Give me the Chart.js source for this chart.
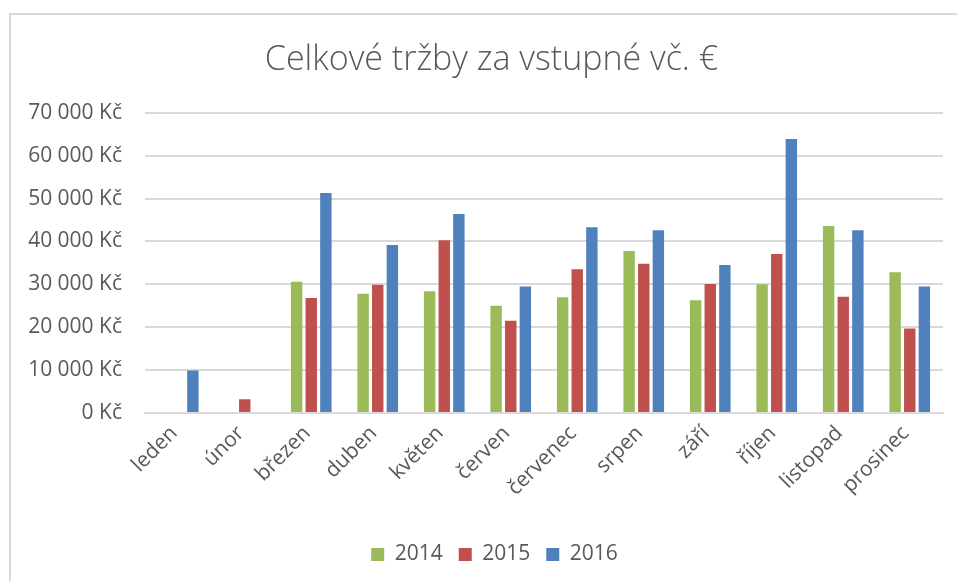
<!DOCTYPE html>
<html lang="cs">
<head>
    <meta charset="UTF-8">
    <title>Celkové tržby za vstupné</title>
    <script src="https://cdn.jsdelivr.net/npm/chart.js"></script>
    <style>
        body {
            margin: 0;
            background-color: #ffffff;
        }
        .wrap {
            position: relative;
            width: 957px;
            height: 581px;
        }
    </style>
</head>
<body>
    <div class="wrap">
        <canvas id="salesChart" width="957" height="581"></canvas>
    </div>
    <script>
        // Data
        const months = ['leden', 'únor', 'březen', 'duben', 'květen', 'červen',
            'červenec', 'srpen', 'září', 'říjen', 'listopad', 'prosinec'];
        const sales2014 = [null, null, 30600, 27800, 28400, 25000, 27000, 37800, 26300, 30000, 43600, 32800];
        const sales2015 = [null, 3200, 26800, 29900, 40300, 21500, 33500, 34800, 30100, 37100, 27100, 19700];
        const sales2016 = [9900, null, 51300, 39200, 46400, 29500, 43300, 42600, 34500, 63900, 42600, 29500];
        const yTicks = [0, 10000, 20000, 30000, 40000, 50000, 60000, 70000];

        const textColor = '#595959';
        const gridColor = '#d9d9d9';
        const fontFamily = "'Open Sans', sans-serif";

        // Format 70000 -> "70 000 Kč"
        function formatKc(value) {
            return String(value).replace(/\B(?=(\d{3})+(?!\d))/g, ' ') + ' Kč';
        }

        // Light frame around the chart, like the Excel chart box
        const frame = {
            id: 'frame',
            afterLayout(chart) {
                // title and legend are centred on the wider Excel frame
                chart.titleBlock.left += 15;
                chart.titleBlock.right += 15;
                chart.legend.left += 18;
                chart.legend.right += 18;
            },
            beforeDraw(chart) {
                const ctx = chart.ctx;
                ctx.save();
                ctx.fillStyle = '#ffffff';
                ctx.fillRect(0, 0, chart.width, chart.height);
                ctx.strokeStyle = gridColor;
                ctx.lineWidth = 2;
                ctx.strokeRect(10, 14, chart.width + 20, chart.height + 20);
                ctx.restore();
            }
        };

        Chart.defaults.font.family = fontFamily;
        Chart.defaults.color = textColor;

        new Chart(document.getElementById('salesChart'), {
            type: 'bar',
            data: {
                labels: months,
                datasets: [
                    { label: '2014', data: sales2014, backgroundColor: '#9bbb59' },
                    { label: '2015', data: sales2015, backgroundColor: '#c0504d' },
                    { label: '2016', data: sales2016, backgroundColor: '#4f81bd' }
                ]
            },
            options: {
                responsive: false,
                animation: false,
                layout: {
                    padding: { left: 10, right: 14, top: 14, bottom: 6 }
                },
                datasets: {
                    bar: {
                        categoryPercentage: 0.66,
                        barPercentage: 0.78
                    }
                },
                plugins: {
                    title: {
                        display: true,
                        text: 'Celkové tržby za vstupné vč. €',
                        color: textColor,
                        font: { size: 34, weight: 300 },
                        padding: { top: 26, bottom: 32 }
                    },
                    legend: {
                        position: 'bottom',
                        labels: {
                            boxWidth: 13,
                            boxHeight: 13,
                            padding: 16,
                            color: textColor,
                            font: { size: 21 }
                        }
                    },
                    tooltip: { enabled: false }
                },
                scales: {
                    x: {
                        grid: { display: false, drawTicks: false },
                        border: { display: true, color: gridColor, width: 2 },
                        ticks: {
                            minRotation: 45,
                            maxRotation: 45,
                            padding: 8,
                            labelOffset: -4,
                            color: textColor,
                            font: { size: 21 }
                        },
                        afterFit(scale) {
                            scale.height = 115;
                        }
                    },
                    y: {
                        min: 0,
                        max: 70000,
                        afterBuildTicks(scale) {
                            scale.ticks = yTicks.map(v => ({ value: v }));
                        },
                        grid: { color: gridColor, lineWidth: 2, drawTicks: false },
                        border: { display: false },
                        ticks: {
                            padding: 23,
                            color: textColor,
                            font: { size: 21 },
                            callback: formatKc
                        },
                        afterFit(scale) {
                            scale.width = 135;
                        }
                    }
                }
            },
            plugins: [frame]
        });
    </script>
</body>
</html>
